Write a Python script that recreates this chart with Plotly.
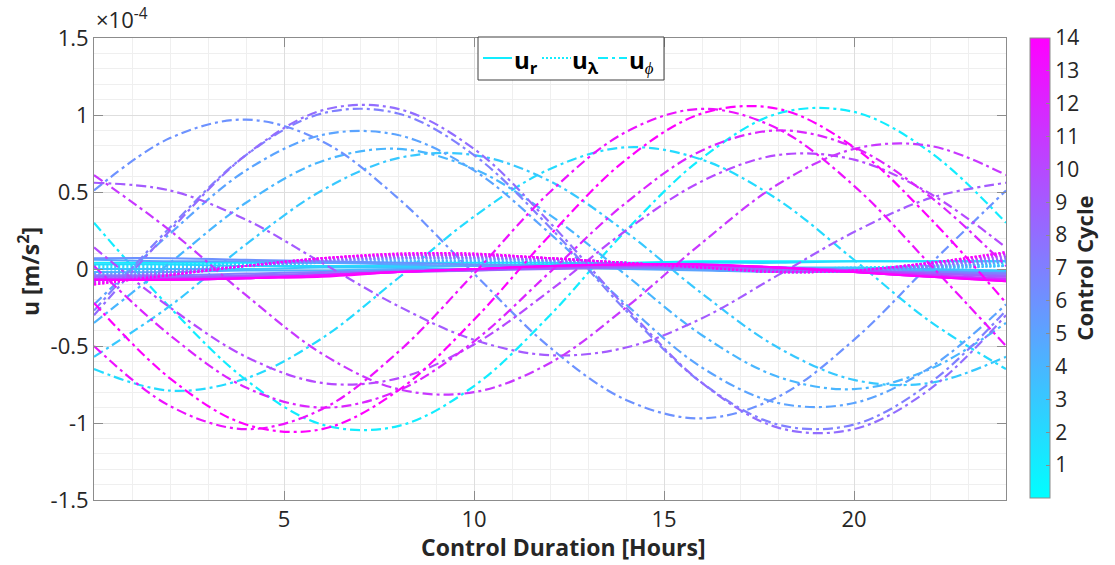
import plotly.graph_objects as go

# ---------------- data (values in units of 1e-4 m/s^2) ----------------
hours = [0, 2, 4, 6, 8, 10, 12, 14, 16, 18, 20, 22, 24]
cycles = list(range(1, 15))

u_phi = {
    1:  [0.30, -0.25, -0.72, -1.01, -1.02, -0.76, -0.30, 0.25, 0.72, 1.01, 1.02, 0.76, 0.30],
    2:  [-0.65, -0.79, -0.71, -0.45, -0.06, 0.34, 0.65, 0.79, 0.71, 0.45, 0.06, -0.34, -0.65],
    3:  [-0.57, -0.24, 0.16, 0.51, 0.72, 0.74, 0.57, 0.24, -0.16, -0.51, -0.72, -0.74, -0.57],
    4:  [-0.35, 0.04, 0.43, 0.70, 0.78, 0.65, 0.35, -0.04, -0.43, -0.70, -0.78, -0.65, -0.35],
    5:  [-0.23, 0.23, 0.64, 0.87, 0.87, 0.64, 0.23, -0.23, -0.64, -0.87, -0.87, -0.64, -0.23],
    6:  [0.51, 0.85, 0.97, 0.83, 0.46, -0.03, -0.51, -0.85, -0.97, -0.83, -0.46, 0.03, 0.51],
    7:  [-0.27, 0.27, 0.74, 1.01, 1.01, 0.74, 0.27, -0.27, -0.74, -1.01, -1.01, -0.74, -0.27],
    8:  [-0.30, 0.25, 0.74, 1.03, 1.04, 0.78, 0.30, -0.25, -0.74, -1.03, -1.04, -0.78, -0.30],
    9:  [0.56, 0.51, 0.32, 0.04, -0.24, -0.46, -0.56, -0.51, -0.32, -0.04, 0.24, 0.46, 0.56],
    10: [0.14, -0.25, -0.57, -0.74, -0.71, -0.49, -0.14, 0.25, 0.57, 0.74, 0.71, 0.49, 0.14],
    11: [0.61, 0.25, -0.17, -0.55, -0.78, -0.80, -0.61, -0.25, 0.17, 0.55, 0.78, 0.80, 0.61],
    12: [0.02, -0.43, -0.77, -0.90, -0.79, -0.47, -0.02, 0.43, 0.77, 0.90, 0.79, 0.47, 0.02],
    13: [-0.50, -0.89, -1.04, -0.91, -0.54, -0.03, 0.50, 0.89, 1.04, 0.91, 0.54, 0.03, -0.50],
    14: [-0.22, -0.71, -1.01, -1.04, -0.79, -0.33, 0.22, 0.71, 1.01, 1.04, 0.79, 0.33, -0.22],
}

u_r = {
    1:  [0.04, 0.04, 0.04, 0.04, 0.04, 0.04, 0.04, 0.04, 0.05, 0.05, 0.05, 0.05, 0.05],
    2:  [0.03, 0.03, 0.02, 0.02, 0.02, 0.02, 0.03, 0.03, 0.04, 0.04, 0.05, 0.05, 0.05],
    3:  [0.00, 0.00, 0.00, 0.01, 0.01, 0.02, 0.02, 0.02, 0.02, 0.01, 0.01, 0.00, -0.01],
    4:  [-0.02, -0.02, -0.01, -0.01, 0.00, 0.00, 0.01, 0.01, 0.01, 0.00, 0.00, -0.01, -0.02],
    5:  [0.06, 0.05, 0.05, 0.04, 0.03, 0.02, 0.01, 0.00, -0.01, -0.02, -0.02, -0.03, -0.03],
    6:  [0.07, 0.07, 0.06, 0.05, 0.04, 0.03, 0.02, 0.01, 0.00, -0.01, -0.02, -0.02, -0.03],
    7:  [-0.04, -0.04, -0.03, -0.02, -0.01, 0.00, 0.01, 0.01, 0.01, 0.00, -0.01, -0.02, -0.03],
    8:  [-0.05, -0.05, -0.04, -0.03, -0.02, -0.01, 0.00, 0.01, 0.01, 0.00, -0.01, -0.03, -0.04],
    9:  [-0.06, -0.06, -0.05, -0.04, -0.02, -0.01, 0.01, 0.02, 0.02, 0.01, -0.01, -0.03, -0.05],
    10: [-0.07, -0.06, -0.05, -0.04, -0.02, 0.00, 0.01, 0.02, 0.02, 0.01, -0.01, -0.04, -0.06],
    11: [-0.07, -0.07, -0.06, -0.04, -0.02, 0.00, 0.02, 0.03, 0.02, 0.01, -0.02, -0.04, -0.07],
    12: [-0.07, -0.07, -0.06, -0.04, -0.02, 0.00, 0.02, 0.03, 0.03, 0.01, -0.02, -0.05, -0.07],
    13: [-0.07, -0.07, -0.06, -0.04, -0.02, 0.00, 0.02, 0.03, 0.03, 0.01, -0.02, -0.05, -0.08],
    14: [-0.07, -0.07, -0.06, -0.05, -0.02, 0.00, 0.02, 0.03, 0.03, 0.01, -0.02, -0.05, -0.08],
}

u_lam = {
    1:  [0.02, 0.03, 0.04, 0.04, 0.04, 0.03, 0.02, 0.01, 0.00, 0.00, 0.01, 0.02, 0.03],
    2:  [0.01, 0.02, 0.03, 0.04, 0.04, 0.04, 0.03, 0.02, 0.01, 0.00, 0.00, 0.01, 0.02],
    3:  [0.00, 0.01, 0.03, 0.04, 0.05, 0.05, 0.04, 0.03, 0.01, 0.00, 0.00, 0.01, 0.02],
    4:  [-0.02, 0.00, 0.02, 0.04, 0.05, 0.05, 0.04, 0.03, 0.01, 0.00, -0.01, 0.00, 0.02],
    5:  [-0.03, -0.01, 0.02, 0.04, 0.06, 0.06, 0.05, 0.03, 0.01, -0.01, -0.01, 0.01, 0.04],
    6:  [-0.04, -0.01, 0.02, 0.05, 0.07, 0.07, 0.05, 0.03, 0.01, -0.01, -0.01, 0.01, 0.05],
    7:  [-0.05, -0.02, 0.02, 0.05, 0.07, 0.07, 0.06, 0.03, 0.01, -0.01, -0.01, 0.02, 0.06],
    8:  [-0.06, -0.02, 0.02, 0.06, 0.08, 0.08, 0.06, 0.04, 0.01, -0.01, -0.01, 0.02, 0.07],
    9:  [-0.07, -0.03, 0.02, 0.06, 0.08, 0.08, 0.06, 0.04, 0.01, -0.01, -0.01, 0.03, 0.08],
    10: [-0.08, -0.03, 0.02, 0.06, 0.09, 0.09, 0.07, 0.04, 0.01, -0.01, -0.01, 0.03, 0.09],
    11: [-0.09, -0.04, 0.02, 0.07, 0.09, 0.09, 0.07, 0.04, 0.01, -0.02, -0.01, 0.04, 0.10],
    12: [-0.09, -0.04, 0.02, 0.07, 0.09, 0.09, 0.07, 0.04, 0.01, -0.02, -0.01, 0.04, 0.10],
    13: [-0.10, -0.04, 0.02, 0.07, 0.10, 0.10, 0.07, 0.04, 0.01, -0.02, -0.01, 0.04, 0.11],
    14: [-0.10, -0.04, 0.02, 0.07, 0.10, 0.10, 0.07, 0.04, 0.01, -0.02, -0.01, 0.04, 0.11],
}

y_ticks = [-1.5, -1, -0.5, 0, 0.5, 1, 1.5]
y_ticklabels = ["-1.5", "-1", "-0.5", "0", "0.5", "1", "1.5"]
x_ticks = [5, 10, 15, 20]
cbar_ticks = list(range(1, 15))
legend_labels = ["<b>u<sub>r</sub></b>", "<b>u<sub>λ</sub></b>", "<b>u</b><sub><i>ϕ</i></sub>"]

SCALE = 1e-4
CMIN, CMAX = 0, 14

# plot-area geometry in pixels (for placing decorations)
PX0, PX1, PY0, PY1 = 94, 1006, 38, 500


def px(x):
    return (x - PX0) / (PX1 - PX0)


def py(y):
    return (PY1 - y) / (PY1 - PY0)


def cool(v):
    f = (v - CMIN) / (CMAX - CMIN)
    return "rgb(%d,%d,255)" % (round(255 * f), round(255 * (1 - f)))


FONT = "Open Sans"
TXT = "#262626"
AXC = "#8c8c8c"
DASHDOT = "10px,4px,3px,4px"
DOT = "2px,2px"

fig = go.Figure()

for k in cycles:
    col = cool(k)
    fig.add_trace(go.Scatter(
        x=hours, y=[v * SCALE for v in u_r[k]], mode="lines",
        line=dict(color=col, width=2, shape="spline", smoothing=1.0),
        name="u_r cycle %d" % k, showlegend=False, hoverinfo="skip"))
    fig.add_trace(go.Scatter(
        x=hours, y=[v * SCALE for v in u_lam[k]], mode="lines",
        line=dict(color=col, width=2, dash=DOT, shape="spline", smoothing=1.0),
        name="u_lambda cycle %d" % k, showlegend=False, hoverinfo="skip"))
    fig.add_trace(go.Scatter(
        x=hours, y=[v * SCALE for v in u_phi[k]], mode="lines",
        line=dict(color=col, width=2.2, dash=DASHDOT, shape="spline", smoothing=1.0),
        name="u_phi cycle %d" % k, showlegend=False, hoverinfo="skip"))

# colour bar carrier
fig.add_trace(go.Scatter(
    x=[-5], y=[0], mode="markers", showlegend=False, hoverinfo="skip",
    marker=dict(size=1, color=[1], cmin=CMIN, cmax=CMAX,
                colorscale=[[0, "rgb(0,255,255)"], [1, "rgb(255,0,255)"]],
                showscale=True,
                colorbar=dict(
                    x=px(1030), xanchor="left", xpad=0,
                    y=py(268), yanchor="middle", ypad=0,
                    len=460, lenmode="pixels", thickness=20, thicknessmode="pixels",
                    outlinecolor=AXC, outlinewidth=1,
                    tickvals=cbar_ticks, ticks="inside", ticklen=4, tickcolor=AXC,
                    tickfont=dict(family=FONT, size=21, color=TXT),
                    title=dict(text="<b>Control Cycle</b>", side="right",
                               font=dict(family=FONT, size=22, color=TXT)),
                ))))

# manual legend (box, line samples, labels)
leg_col = cool(cycles[0])
shapes = [dict(type="rect", xref="paper", yref="paper",
               x0=px(478), x1=px(664), y0=py(80), y1=py(37),
               fillcolor="white", line=dict(color="#404040", width=1), layer="above")]
sample_x = [(483, 512), (542, 571), (598, 627)]
sample_dash = ["solid", DOT, DASHDOT]
for (a, b), d in zip(sample_x, sample_dash):
    shapes.append(dict(type="line", xref="paper", yref="paper",
                       x0=px(a), x1=px(b), y0=py(58), y1=py(58),
                       line=dict(color=leg_col, width=2, dash=d), layer="above"))

annotations = [
    dict(text="×10<sup>-4</sup>", xref="paper", yref="paper", x=0, y=1.005,
         xanchor="left", yanchor="bottom", showarrow=False,
         font=dict(family=FONT, size=22, color=TXT)),
    dict(text="<b>u [m/s<sup>2</sup>]</b>", xref="paper", yref="paper",
         x=px(29), y=py(272), textangle=-90,
         xanchor="center", yanchor="middle", showarrow=False,
         font=dict(family=FONT, size=23, color=TXT)),
    dict(text="<b>Control Duration [Hours]</b>", xref="paper", yref="paper",
         x=px(563), y=py(547),
         xanchor="center", yanchor="middle", showarrow=False,
         font=dict(family=FONT, size=23, color=TXT)),
]
for lab, xs in zip(legend_labels, [513, 571, 628]):
    annotations.append(dict(text=lab, xref="paper", yref="paper",
                            x=px(xs), y=py(61), xanchor="left", yanchor="middle",
                            showarrow=False, borderpad=0,
                            font=dict(family=FONT, size=24, color="black")))

fig.update_layout(
    width=1115, height=565,
    margin=dict(l=PX0, r=1115 - PX1, t=PY0, b=565 - PY1),
    plot_bgcolor="white", paper_bgcolor="white",
    font=dict(family=FONT, color=TXT),
    showlegend=False,
    xaxis=dict(range=[0, 24], tickvals=x_ticks, ticks="inside", ticklen=9,
               tickcolor=AXC, showline=True, linecolor=AXC, linewidth=1,
               mirror="ticks", showgrid=True, gridcolor="#dedede", zeroline=False,
               tickfont=dict(family=FONT, size=22, color=TXT),
               minor=dict(dtick=1, showgrid=True, gridcolor="#efefef", ticks="")),
    yaxis=dict(range=[-1.5 * SCALE, 1.5 * SCALE],
               tickvals=[v * SCALE for v in y_ticks], ticktext=y_ticklabels,
               ticks="inside", ticklen=9, tickcolor=AXC, showline=True,
               linecolor=AXC, linewidth=1, mirror="ticks", showgrid=True,
               gridcolor="#dedede", zeroline=False,
               tickfont=dict(family=FONT, size=22, color=TXT),
               minor=dict(dtick=0.1 * SCALE, showgrid=True, gridcolor="#efefef", ticks="")),
    shapes=shapes,
    annotations=annotations,
)

fig.write_html("out.html")
